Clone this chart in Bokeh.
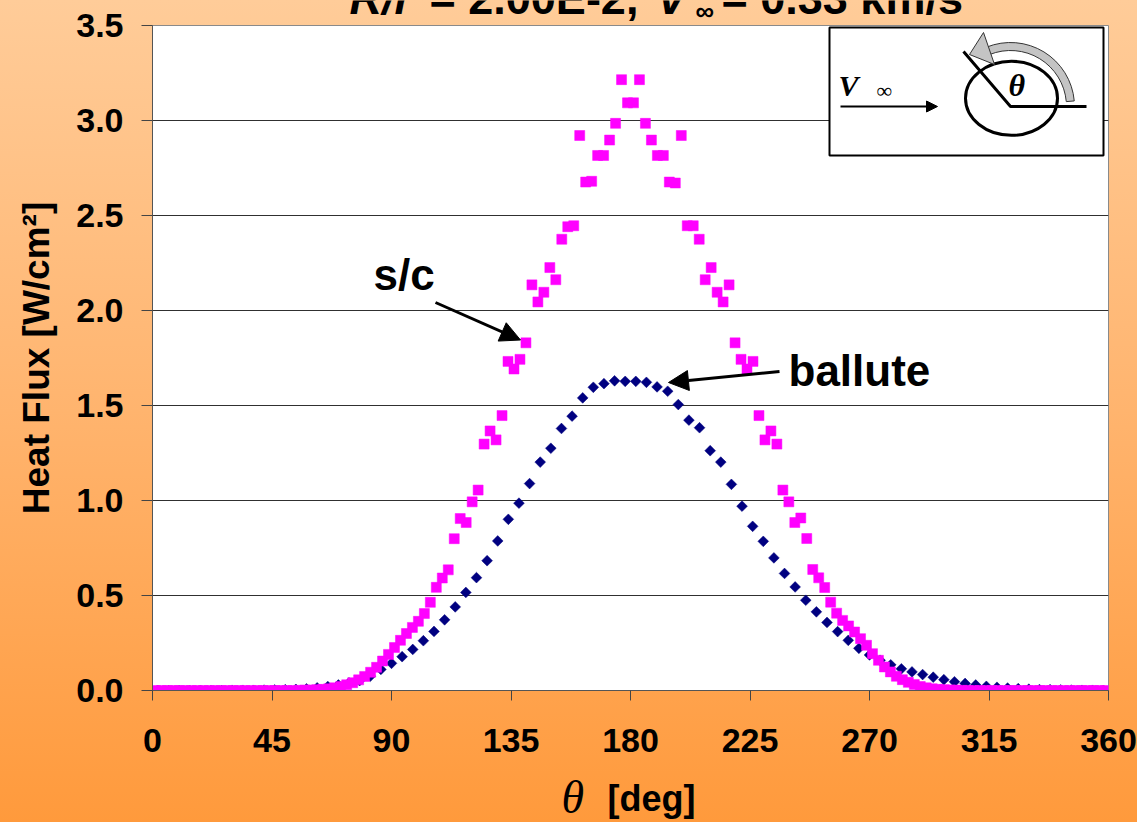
import numpy as np
from bokeh.plotting import figure
from bokeh.models import Range1d, Label, Arrow, NormalHead, FixedTicker
from bokeh.embed import file_html
from bokeh.resources import INLINE

# ---------------------------------------------------------------- data
# spacecraft (s/c) surface stations, 160 panels around the body [deg]
sc_theta = np.arange(1.125, 360.0, 2.25)
sc_q = [
    0, 0, 0, 0, 0, 0, 0, 0, 0, 0,
    0, 0, 0, 0, 0, 0, 0, 0, 0, 0,
    0, 0, 0, 0, 0.001, 0.002, 0.003, 0.004, 0.006, 0.009,
    0.014, 0.021, 0.030, 0.041, 0.056, 0.074, 0.096, 0.122, 0.155, 0.190,
    0.226, 0.264, 0.300, 0.332, 0.364, 0.405, 0.464, 0.543, 0.592, 0.635,
    0.799, 0.905, 0.884, 0.993, 1.055, 1.297, 1.366, 1.319, 1.447, 1.732,
    1.692, 1.743, 1.830, 2.135, 2.045, 2.096, 2.226, 2.162, 2.375, 2.441,
    2.446, 2.921, 2.676, 2.680, 2.816, 2.816, 2.897, 2.985, 3.215, 3.093,
    3.093, 3.215, 2.985, 2.897, 2.816, 2.816, 2.676, 2.671, 2.921, 2.446,
    2.446, 2.375, 2.162, 2.226, 2.096, 2.045, 2.135, 1.830, 1.743, 1.692,
    1.732, 1.447, 1.319, 1.366, 1.297, 1.055, 0.993, 0.884, 0.908, 0.800,
    0.637, 0.593, 0.542, 0.465, 0.407, 0.369, 0.340, 0.308, 0.273, 0.238,
    0.194, 0.159, 0.124, 0.098, 0.075, 0.057, 0.043, 0.032, 0.021, 0.014,
    0.009, 0.006, 0.004, 0.003, 0.002, 0.001, 0, 0, 0, 0,
    0, 0, 0, 0, 0, 0, 0, 0, 0, 0,
    0, 0, 0, 0, 0, 0, 0, 0, 0, 0,
]

# ballute stations, 90 panels [deg]
ballute_theta = np.arange(2.0, 360.0, 4.0)
ballute_q = [
    0, 0, 0, 0, 0, 0, 0, 0.001, 0.001, 0.001,
    0.002, 0.003, 0.004, 0.006, 0.009, 0.014, 0.021, 0.029, 0.040, 0.052,
    0.075, 0.111, 0.143, 0.178, 0.216, 0.262, 0.311, 0.372, 0.440, 0.516,
    0.594, 0.683, 0.787, 0.901, 0.986, 1.089, 1.202, 1.275, 1.379, 1.444,
    1.540, 1.596, 1.615, 1.630, 1.627, 1.627, 1.622, 1.598, 1.575, 1.505,
    1.423, 1.383, 1.262, 1.202, 1.085, 0.970, 0.864, 0.785, 0.698, 0.616,
    0.545, 0.475, 0.414, 0.358, 0.310, 0.264, 0.222, 0.187, 0.159, 0.135,
    0.114, 0.098, 0.084, 0.070, 0.057, 0.046, 0.037, 0.029, 0.022, 0.017,
    0.013, 0.010, 0.007, 0.005, 0.004, 0.003, 0.002, 0.001, 0.001, 0,
]

x_ticks = [0, 45, 90, 135, 180, 225, 270, 315, 360]
y_ticks = [0.0, 0.5, 1.0, 1.5, 2.0, 2.5, 3.0, 3.5]
y_tick_labels = ["0.0", "0.5", "1.0", "1.5", "2.0", "2.5", "3.0", "3.5"]

# ---------------------------------------------------------------- layout
W, H = 1137, 822
FRAME_LEFT, FRAME_RIGHT, FRAME_TOP, FRAME_BOTTOM = 152, 1108, 25, 690
FRAME_W = FRAME_RIGHT - FRAME_LEFT
FRAME_H = FRAME_BOTTOM - FRAME_TOP
X0, X1, Y0, Y1 = 0, 360, 0, 3.5


def px_x(px):
    """page pixel column -> theta"""
    return X0 + (px - FRAME_LEFT) * (X1 - X0) / FRAME_W


def px_y(py):
    """page pixel row -> heat flux"""
    return Y0 + (FRAME_BOTTOM - py) * (Y1 - Y0) / FRAME_H


SANS = "Liberation Sans"
SERIF = "Liberation Serif"
DESCENT = 0.2   # em-box bottom below the baseline, as a fraction of the font size


def label(fig, x, baseline, text, size, font=SANS, style="bold", page_coords=False):
    """text placed by its left edge and baseline, given in page pixels"""
    bottom = baseline + DESCENT * size
    if page_coords:
        lx, ly = x, bottom
    else:
        lx, ly = px_x(x), px_y(bottom)
    fig.add_layout(Label(x=lx, y=ly, text=text, text_font=font, text_font_style=style,
                         text_font_size=f"{size}px", text_color="black",
                         text_baseline="bottom", text_align="left"))


p = figure(width=W, height=H, x_range=Range1d(X0, X1), y_range=Range1d(Y0, Y1),
           output_backend="svg", toolbar_location=None,
           min_border_left=FRAME_LEFT, min_border_right=W - FRAME_RIGHT,
           min_border_top=FRAME_TOP, min_border_bottom=H - FRAME_BOTTOM)

p.styles = {"background": "linear-gradient(to bottom, #FFCC99 0%, #FFB46E 50%, #FF9A3C 100%)"}
p.border_fill_color = None
p.background_fill_color = "white"
p.outline_line_color = "#8a8a8a"
p.outline_line_width = 1

# axes
p.xaxis.ticker = FixedTicker(ticks=x_ticks)
p.yaxis.ticker = FixedTicker(ticks=y_ticks)
p.yaxis.major_label_overrides = {t: s for t, s in zip(y_ticks, y_tick_labels)}
for ax in (p.xaxis[0], p.yaxis[0]):
    ax.axis_line_color = "#555555"
    ax.major_tick_line_color = "#444444"
    ax.major_tick_in = 0
    ax.minor_tick_line_color = None
    ax.major_label_text_font = SANS
    ax.major_label_text_font_style = "bold"
    ax.major_label_text_color = "black"
p.xaxis.major_tick_out = 10
p.yaxis.major_tick_out = 11
p.xaxis.major_label_text_font_size = "34px"
p.yaxis.major_label_text_font_size = "34px"
p.xaxis.major_label_standoff = 28
p.yaxis.major_label_standoff = 18

p.yaxis.axis_label = "Heat Flux [W/cm²]"
p.yaxis.axis_label_text_font = SANS
p.yaxis.axis_label_text_font_style = "bold"
p.yaxis.axis_label_text_font_size = "37px"
p.yaxis.axis_label_text_color = "black"
p.yaxis.axis_label_standoff = 16

p.xgrid.grid_line_color = None
p.ygrid.grid_line_color = "#303030"
p.ygrid.grid_line_width = 1

# series
p.scatter(ballute_theta, ballute_q, marker="square", angle=np.pi / 4, size=7.6,
          fill_color="#000080", line_color="#000080", line_width=0.5)
p.scatter(sc_theta, sc_q, marker="square", size=10,
          fill_color="#FF00FF", line_color="#FF00FF", line_width=0.5)

# series callouts
label(p, 373, 290, "s/c", 44)
label(p, 788, 386, "ballute", 44)
p.add_layout(Arrow(x_start=px_x(435), y_start=px_y(302), x_end=px_x(520), y_end=px_y(339.5),
                   line_width=3, line_color="black",
                   end=NormalHead(size=20, fill_color="black", line_color="black")))
p.add_layout(Arrow(x_start=px_x(779), y_start=px_y(371), x_end=px_x(668), y_end=px_y(382),
                   line_width=3, line_color="black",
                   end=NormalHead(size=20, fill_color="black", line_color="black")))

# inset sketch: free stream and angle convention
p.quad(left=px_x(829), right=px_x(1103), top=px_y(27), bottom=px_y(155),
       fill_color="white", line_color="black", line_width=2)
p.add_layout(Arrow(x_start=px_x(840), y_start=px_y(106), x_end=px_x(937), y_end=px_y(106),
                   line_width=2, line_color="black",
                   end=NormalHead(size=11, fill_color="black", line_color="black")))
label(p, 838, 95, "V", 30, SERIF, "bold italic")
label(p, 876, 98, "∞", 22, SERIF, "normal")
p.ellipse(x=px_x(1011), y=px_y(97.8), width=92 * (X1 - X0) / FRAME_W,
          height=74 * (Y1 - Y0) / FRAME_H, fill_color=None, line_color="black", line_width=3)
p.annular_wedge(x=px_x(1010), y=px_y(106), inner_radius=56, outer_radius=64,
                inner_radius_units="screen", outer_radius_units="screen",
                start_angle=np.radians(5), end_angle=np.radians(112),
                fill_color="#c4c4c4", line_color="#333333", line_width=1)
p.patch(x=[px_x(983), px_x(994), px_x(969)], y=[px_y(32), px_y(64), px_y(54)],
        fill_color="#c4c4c4", line_color="#333333", line_width=1)
p.line(x=[px_x(963), px_x(1010), px_x(1086)], y=[px_y(51), px_y(106), px_y(106)],
       line_color="black", line_width=3)
label(p, 1008, 96, "θ", 32, SERIF, "bold italic")

# ------------------------------------------- texts outside the plot frame
# a transparent page-sized layer on top, in page pixels (y down)
ov = figure(width=W, height=H, x_range=Range1d(0, W), y_range=Range1d(H, 0),
            x_axis_type=None, y_axis_type=None, output_backend="svg",
            toolbar_location=None, min_border=0, title=None)
ov.background_fill_color = None
ov.border_fill_color = None
ov.outline_line_color = None
ov.styles = {"position": "absolute", "top": "0px", "left": "0px",
             "pointer-events": "none"}

# x axis title
label(ov, 561, 813, "θ", 46, SERIF, "italic", page_coords=True)
label(ov, 607, 811, "[deg]", 36, page_coords=True)

# run title along the top edge
label(ov, 349, 14, "R/r", 45, SANS, "bold italic", page_coords=True)
label(ov, 429, 14, "= 2.00E-2,", 45, page_coords=True)
label(ov, 656, 14, "V", 45, SANS, "bold italic", page_coords=True)
label(ov, 695, 20, "∞", 26, page_coords=True)
label(ov, 721, 14, "= 0.33 km/s", 45, page_coords=True)

open("out.html", "w").write(file_html([p, ov], INLINE))
